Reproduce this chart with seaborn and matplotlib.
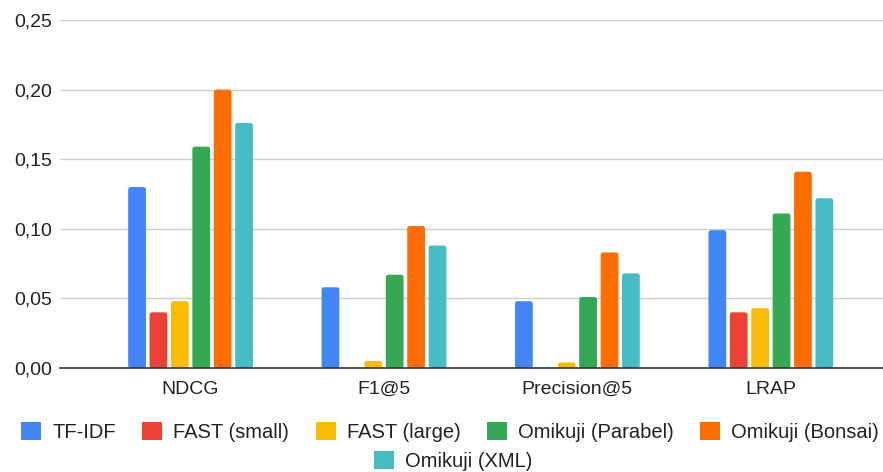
import matplotlib
matplotlib.use("Agg")
import matplotlib.pyplot as plt
from matplotlib.ticker import FuncFormatter, MultipleLocator
from matplotlib.patches import Patch, FancyBboxPatch
import numpy as np
import pandas as pd
import seaborn as sns

# Metric groups along the x axis
metrics = ["NDCG", "F1@5", "Precision@5", "LRAP"]

# Scores per method (NaN = no result for that metric)
tfidf = [0.130, 0.058, 0.048, 0.099]
fast_small = [0.040, np.nan, np.nan, 0.040]
fast_large = [0.048, 0.005, 0.004, 0.043]
omikuji_parabel = [0.159, 0.067, 0.051, 0.111]
omikuji_bonsai = [0.200, 0.102, 0.083, 0.141]
omikuji_xml = [0.176, 0.088, 0.068, 0.122]

methods = ["TF-IDF", "FAST (small)", "FAST (large)",
           "Omikuji (Parabel)", "Omikuji (Bonsai)", "Omikuji (XML)"]
series = [tfidf, fast_small, fast_large, omikuji_parabel, omikuji_bonsai, omikuji_xml]
colors = ["#4285F4", "#EA4335", "#FBBC04", "#34A853", "#FF6D01", "#46BDC6"]

df = pd.DataFrame(
    [(m, meth, v) for meth, vals in zip(methods, series) for m, v in zip(metrics, vals)],
    columns=["metric", "method", "score"],
)

sns.set_theme(style="white")
plt.rcParams["font.family"] = ["Liberation Sans", "DejaVu Sans"]

W, H = 883, 472
fig = plt.figure(figsize=(W / 100, H / 100), dpi=100)
ax_left, ax_top, ax_bottom = 60, 20, 368
ax = fig.add_axes([ax_left / W, (H - ax_bottom) / H, (W - ax_left) / W,
                   (ax_bottom - ax_top) / H])

sns.barplot(data=df, x="metric", y="score", hue="method", hue_order=methods,
            order=metrics, palette=colors, width=0.664, gap=0.17,
            saturation=1, ax=ax, legend=False, linewidth=0)

xlim = (-0.675, 3.58)
ylim = (0, 0.25)
ax.set_ylim(*ylim)
ax.set_xlim(*xlim)

# Swap the plain rectangles for ones with slightly rounded corners
x_per_px = (xlim[1] - xlim[0]) / (W - ax_left)
y_per_px = (ylim[1] - ylim[0]) / (ax_bottom - ax_top)
radius_px = 2.5
for bar in list(ax.patches):
    x, y = bar.get_x(), bar.get_y()
    w, h = bar.get_width(), bar.get_height()
    if not np.isfinite(h) or h <= 0:
        bar.remove()
        continue
    rounded = FancyBboxPatch(
        (x, y), w, h,
        boxstyle=f"round,pad=0,rounding_size={radius_px * x_per_px}",
        mutation_aspect=y_per_px / x_per_px,
        facecolor=bar.get_facecolor(), edgecolor="none", zorder=bar.get_zorder(),
    )
    bar.remove()
    ax.add_patch(rounded)

ax.yaxis.set_major_locator(MultipleLocator(0.05))
ax.yaxis.set_major_formatter(FuncFormatter(lambda v, _: f"{v:.2f}".replace(".", ",")))
ax.grid(axis="y", color="#cccccc", linewidth=1.0)
ax.set_axisbelow(True)
for s in ["top", "right", "left"]:
    ax.spines[s].set_visible(False)
ax.spines["bottom"].set_color("#333333")
ax.spines["bottom"].set_linewidth(1.2)
ax.spines["bottom"].set_zorder(5)
ax.tick_params(axis="both", length=0, labelsize=14, labelcolor="#222222")
ax.tick_params(axis="y", pad=6)
ax.tick_params(axis="x", pad=9)
ax.set_xlabel("")
ax.set_ylabel("")

# Legend: five entries on the first row, the last one centred below
handles = [Patch(facecolor=c, edgecolor="none") for c in colors]
leg_kw = dict(frameon=False, fontsize=14.5, handlelength=1.0, handleheight=1.0,
              handletextpad=0.55, columnspacing=1.3, labelcolor="#222222",
              borderpad=0, borderaxespad=0)
fig.legend(handles[:5], methods[:5], loc="center", ncol=5,
           bbox_to_anchor=(450 / W, 1 - 432 / H), **leg_kw)
fig.legend(handles[5:], methods[5:], loc="center", ncol=1,
           bbox_to_anchor=(453 / W, 1 - 461 / H), **leg_kw)

fig.savefig("out.png", dpi=100)
